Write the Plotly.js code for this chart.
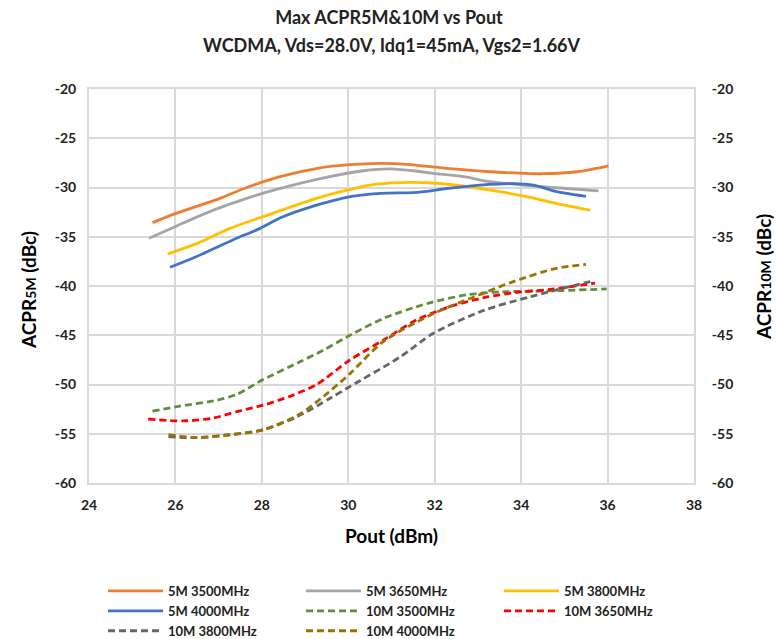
<!DOCTYPE html>
<html><head><meta charset="utf-8">
<script src="https://cdn.plot.ly/plotly-3.0.1.min.js"></script>
<style>html,body{margin:0;padding:0;background:#fff}#chart{width:778px;height:639px}</style>
</head><body><div id="chart"></div>
<script>
// Data (Pout dBm, ACPR dBc)
const x5M3500 = [25.47, 26.03, 27.03, 27.65, 28.42, 29.35, 29.96, 30.74, 31.35, 32.28, 33.28, 34.05, 34.5, 35.29, 36.02];
const y5M3500 = [-33.57, -32.6, -31.1, -30.0, -28.9, -28.0, -27.7, -27.55, -27.65, -28.05, -28.4, -28.56, -28.6, -28.4, -27.8];
const x5M3650 = [25.39, 26.03, 26.88, 27.65, 28.34, 29.35, 30.35, 30.97, 31.5, 31.97, 32.66, 33.28, 34.05, 35.06, 35.79];
const y5M3650 = [-35.15, -33.9, -32.3, -31.1, -30.2, -29.1, -28.3, -28.1, -28.3, -28.56, -28.9, -29.4, -29.75, -30.1, -30.35];
const x5M3800 = [25.82, 26.49, 27.26, 28.03, 29.19, 30.04, 30.5, 31.2, 32.05, 33.05, 34.05, 34.8, 35.6];
const y5M3800 = [-36.75, -35.7, -34.15, -32.96, -31.2, -30.2, -29.75, -29.5, -29.57, -30.1, -30.86, -31.6, -32.3];
const x5M4000 = [25.875, 26.49, 27.34, 27.96, 28.42, 29.19, 29.96, 30.74, 31.58, 32.28, 33.05, 33.82, 34.29, 34.8, 35.5];
const y5M4000 = [-38.1, -37.0, -35.3, -34.15, -33.1, -31.9, -31.0, -30.6, -30.5, -30.1, -29.75, -29.6, -29.75, -30.4, -30.9];
const x10M3500 = [25.47, 26.1, 26.95, 27.42, 28.03, 28.88, 29.43, 30.04, 30.81, 31.81, 32.74, 33.51, 34.67, 35.98];
const y10M3500 = [-52.7, -52.2, -51.6, -51.0, -49.5, -47.7, -46.5, -45.0, -43.3, -41.8, -40.9, -40.6, -40.5, -40.3];
const x10M3650 = [25.37, 26.18, 26.88, 27.42, 28.03, 28.65, 29.27, 30.04, 30.81, 31.58, 32.35, 33.12, 34.0, 34.67, 35.71];
const y10M3650 = [-53.5, -53.7, -53.4, -52.75, -52.1, -51.2, -50.0, -47.5, -45.5, -43.45, -42.1, -41.2, -40.6, -40.35, -39.7];
const x10M3800 = [25.84, 26.49, 27.26, 28.03, 28.8, 29.58, 30.04, 31.2, 31.97, 33.12, 34.2, 35.6];
const y10M3800 = [-55.3, -55.4, -55.1, -54.6, -53.3, -51.4, -50.2, -47.2, -44.8, -42.5, -41.1, -39.55];
const x10M4000 = [25.84, 26.49, 27.26, 28.03, 28.88, 29.43, 30.04, 30.81, 31.97, 33.12, 33.82, 34.82, 35.5];
const y10M4000 = [-55.1, -55.4, -55.1, -54.6, -53.0, -51.2, -48.9, -45.65, -42.8, -40.75, -39.55, -38.2, -37.8];

const names = ['5M 3500MHz','5M 3650MHz','5M 3800MHz','5M 4000MHz','10M 3500MHz','10M 3650MHz','10M 3800MHz','10M 4000MHz'];
const xTicks = [24, 26, 28, 30, 32, 34, 36, 38];
const yTicks = [-60, -55, -50, -45, -40, -35, -30, -25, -20];
const yTickText = yTicks.map(v => String(v)); // plain hyphen minus as in the reference

const xs = [x5M3500,x5M3650,x5M3800,x5M4000,x10M3500,x10M3650,x10M3800,x10M4000];
const ys = [y5M3500,y5M3650,y5M3800,y5M4000,y10M3500,y10M3650,y10M3800,y10M4000];
const colors = ['#ED7D31','#A5A5A5','#FFC000','#4472C4','#5E8E3E','#FF0000','#666666','#997300'];

const traces = names.map((n,i)=>({
  x: xs[i], y: ys[i], name: n, type:'scatter', mode:'lines',
  yaxis: i<4 ? 'y' : 'y2',
  line: {color: colors[i], width: 2.8, shape:'spline', smoothing:0.8, dash: i<4 ? 'solid' : '7px,4px'}
}));

const fam = 'Lato, "Open Sans", sans-serif';
const tickFont = {family:fam, size:14, color:'#222', weight:'bold'};
const axCommon = {range:[-60,-20], tickmode:'array', tickvals:yTicks, ticktext:yTickText,
  showgrid:true, gridcolor:'#d9d9d9', gridwidth:2, zeroline:false, tickfont:tickFont, fixedrange:true,
  ticks:'outside', tickcolor:'rgba(0,0,0,0)'};
const axTitleFont = {family:fam, size:19, color:'#000'};

const layout = {
  width:778, height:639,
  margin:{l:89, r:84, t:89, b:156, autoexpand:false},
  paper_bgcolor:'#fff', plot_bgcolor:'#fff',
  font: {family:fam, color:'#000'},
  title:{text:'<b>Max ACPR5M&10M vs Pout</b>', xref:'container', x:0.5, xanchor:'center',
    yref:'container', y:1-18/639, yanchor:'middle', font:{family:fam, size:18, color:'#222'}},
  annotations:[
    {text:'<b>WCDMA, Vds=28.0V, Idq1=45mA, Vgs2=1.66V</b>', xref:'paper', yref:'paper',
      x:0.5, xanchor:'center', y:1+(89-45)/394, yanchor:'middle', showarrow:false,
      font:{family:fam, size:18, color:'#222'}},
    {text:'<b>ACPR<span style="font-size:14px">5M</span> (dBc)</b>', xref:'paper', yref:'paper',
      x:(28-89)/605, xanchor:'center', y:(483-290)/394, yanchor:'middle', textangle:-90, showarrow:false,
      font:axTitleFont},
    {text:'<b>ACPR<span style="font-size:14px">10M</span> (dBc)</b>', xref:'paper', yref:'paper',
      x:(763-89)/605, xanchor:'center', y:(483-277)/394, yanchor:'middle', textangle:-90, showarrow:false,
      font:axTitleFont}
  ],
  xaxis:{range:[24,38], tickmode:'array', tickvals:xTicks, showgrid:true, gridcolor:'#d9d9d9', gridwidth:2, zeroline:false,
    showline:true, linecolor:'#d9d9d9', linewidth:2, mirror:true, ticks:'outside', ticklen:8, tickcolor:'rgba(0,0,0,0)',
    tickfont:tickFont,
    title:{text:'<b>Pout (dBm)</b>', font:axTitleFont, standoff:18}},
  yaxis: Object.assign({}, axCommon, {ticklen:8,
    showline:true, linecolor:'#d9d9d9', linewidth:2, mirror:true}),
  yaxis2: Object.assign({}, axCommon, {overlaying:'y', side:'right', showgrid:false, ticklen:14}),
  showlegend:true,
  legend:{orientation:'h', xref:'container', x:103/778, xanchor:'left', yref:'paper', y:-(576-483)/394, yanchor:'top',
    entrywidth:128, entrywidthmode:'pixels', itemwidth:55,
    font:{family:fam, size:13, color:'#222', weight:'bold'}, tracegroupgap:0, traceorder:'normal', bgcolor:'rgba(0,0,0,0)'}
};

Plotly.newPlot('chart', traces, layout, {displayModeBar:false, staticPlot:true});
</script></body></html>
